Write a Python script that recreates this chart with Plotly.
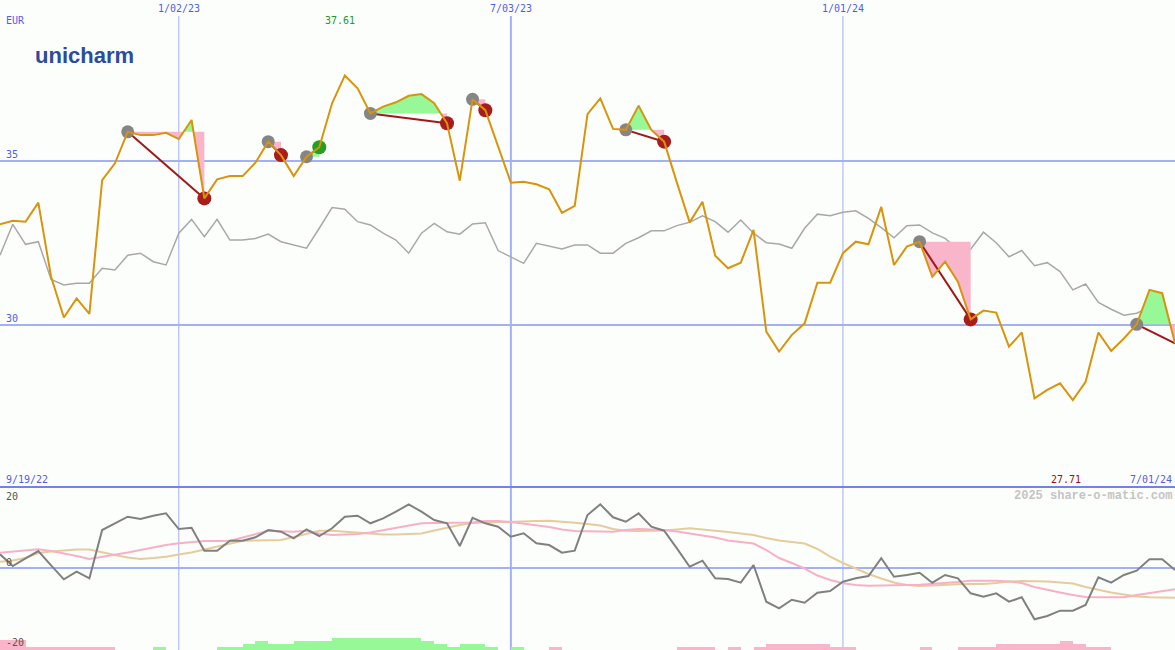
import plotly.graph_objects as go
import pandas as pd

# ---------------- data ----------------
start_date = "2022-09-26"

price = [33.07, 33.18, 33.15, 33.73, 31.47, 30.23, 30.81, 30.34, 34.42, 34.93,
         35.89, 35.79, 35.79, 35.86, 35.67, 36.25, 33.86, 34.44, 34.54, 34.54,
         34.95, 35.59, 35.18, 34.54, 35.13, 35.42, 36.76, 37.61, 37.22, 36.45,
         36.66, 36.79, 36.99, 37.04, 36.76, 36.15, 34.40, 36.88, 36.55, 35.43,
         34.34, 34.37, 34.29, 34.14, 33.42, 33.63, 36.43, 36.91, 35.98, 35.95,
         36.69, 35.95, 35.59, 34.34, 33.13, 33.76, 32.11, 31.73, 31.90, 32.90,
         29.80, 29.19, 29.70, 30.05, 31.29, 31.29, 32.19, 32.54, 32.46, 33.60,
         31.83, 32.39, 32.54, 31.47, 31.93, 31.32, 30.17, 30.44, 30.38, 29.34,
         29.77, 27.76, 28.02, 28.22, 27.71, 28.27, 29.77, 29.21, 29.59, 30.02,
         31.07, 30.97, 29.44]

index_line = [32.13, 33.07, 32.46, 32.54, 31.39, 31.22, 31.27, 31.27, 31.73, 31.68,
              32.13, 32.19, 31.93, 31.83, 32.80, 33.22, 32.69, 33.22, 32.59, 32.59,
              32.64, 32.77, 32.54, 32.44, 32.34, 32.95, 33.58, 33.53, 33.15, 33.05,
              32.80, 32.59, 32.19, 32.80, 33.10, 32.84, 32.77, 33.08, 33.12, 32.27,
              32.08, 31.88, 32.49, 32.41, 32.32, 32.44, 32.44, 32.19, 32.19, 32.49,
              32.66, 32.87, 32.87, 33.03, 33.13, 33.33, 33.15, 32.83, 33.20, 32.80,
              32.51, 32.47, 32.34, 32.95, 33.38, 33.33, 33.44, 33.48, 33.25, 32.97,
              32.66, 33.03, 33.05, 32.81, 32.64, 32.31, 32.31, 32.83, 32.51, 32.08,
              32.27, 31.81, 31.90, 31.63, 31.07, 31.25, 30.69, 30.48, 30.30, 30.36,
              30.54, 30.46, 29.70]

osc = [3.47, 0.51, 2.46, 4.30, 0.68, -2.86, -0.94, -2.61, 9.62, 11.32,
       12.99, 12.41, 13.24, 13.85, 9.87, 10.20, 4.38, 4.38, 6.91, 6.91,
       7.77, 9.62, 9.19, 7.52, 9.80, 8.10, 10.05, 12.99, 13.24, 11.32,
       12.58, 14.25, 16.13, 14.25, 12.15, 11.32, 5.57, 12.73, 11.32, 10.46,
       7.92, 8.78, 6.25, 5.82, 3.87, 4.38, 13.42, 16.13, 12.84, 11.72,
       13.85, 10.46, 9.44, 4.99, 0.33, 1.85, -2.61, -2.78, -3.72, 0.76,
       -8.53, -10.20, -8.03, -8.78, -6.25, -5.82, -3.47, -2.61, -2.03, 2.46,
       -2.20, -1.77, -1.19, -3.72, -1.77, -2.61, -6.41, -7.27, -6.41, -8.53,
       -7.42, -12.99, -12.15, -10.81, -10.81, -9.37, -2.35, -3.72, -1.77, -0.68,
       2.20, 2.20, -0.51]

ma_fast = [3.87, 4.18, 4.56, 4.73, 4.30, 3.72, 3.04, 2.28, 2.78, 3.29,
           3.92, 4.56, 5.19, 5.82, 6.25, 6.58, 6.84, 6.84, 6.91, 7.72,
           8.61, 9.44, 9.32, 9.19, 9.44, 8.73, 8.35, 8.48, 8.61, 8.99,
           9.62, 10.25, 10.89, 11.34, 11.39, 11.47, 11.39, 11.52, 11.90, 11.90,
           11.65, 11.27, 10.89, 10.38, 9.75, 9.37, 9.32, 9.24, 9.19, 9.62,
           9.87, 9.75, 9.62, 9.24, 8.73, 8.23, 7.72, 6.96, 6.58, 6.20,
           4.56, 2.53, 1.27, -0.13, -1.90, -3.04, -3.87, -4.30, -4.48, -4.48,
           -4.48, -4.30, -4.23, -4.05, -3.87, -3.54, -3.22, -3.22, -3.22, -3.42,
           -3.80, -4.81, -5.57, -6.20, -6.84, -7.34, -7.42, -7.42, -7.42, -6.84,
           -6.33, -5.82, -5.39]

ma_slow = [1.59, 1.90, 2.53, 3.80, 4.18, 4.43, 4.68, 4.68, 3.92, 3.29,
           2.66, 2.28, 2.53, 2.86, 3.42, 3.92, 4.68, 5.39, 6.20, 6.91,
           6.96, 7.01, 7.09, 7.85, 8.73, 9.44, 9.44, 9.24, 8.99, 8.73,
           8.48, 8.48, 8.61, 8.73, 9.49, 10.25, 10.89, 11.39, 11.52, 11.65,
           11.72, 11.77, 11.90, 11.97, 11.77, 11.47, 11.14, 10.76, 9.87, 9.44,
           9.37, 9.37, 9.49, 9.75, 10.05, 9.75, 9.49, 9.11, 8.73, 8.35,
           7.59, 6.96, 6.58, 6.20, 4.81, 2.86, 1.27, -0.13, -1.52, -2.66,
           -3.67, -4.30, -4.56, -4.43, -4.23, -4.13, -4.05, -4.05, -3.80, -3.42,
           -3.29, -3.34, -3.42, -3.67, -3.92, -4.81, -5.57, -6.20, -6.71, -7.22,
           -7.42, -7.47, -7.52]

hist = [-2.5, -2.5, -0.7, -0.7, -0.7, -0.7, -0.7, -0.7, -0.7, 0,
        0, 0, 0.7, 0, 0, 0, 0, 0.7, 0.7, 1.5,
        2.3, 1.5, 1.5, 2.3, 2.3, 2.3, 3.1, 3.1, 3.1, 3.1,
        3.1, 3.1, 3.1, 2.3, 1.5, 0.7, 1.5, 1.5, 0.7, 0,
        0.7, 0, 0, -0.7, 0, 0, 0, 0, 0, 0,
        0, 0, 0, -0.7, -0.7, -0.7, 0, -0.7, 0, -0.7,
        -1.5, -1.5, -1.5, -1.5, -1.5, -0.7, -0.7, 0, 0, 0,
        0, 0, -0.7, 0, 0, -0.7, -0.7, -0.7, -1.5, -1.5,
        -1.5, -1.5, -1.5, -2.3, -1.5, -0.7, -0.7, 0, 0, 0,
        0, 0, 0]

sig_start = [10, 21, 24, 29, 37, 49, 72, 89]
sig_end = [16, 22, 25, 35, 38, 52, 76, 92]
sig_closed = [True, True, True, True, True, True, True, False]

vlines = ["2023-01-02", "2023-07-03", "2024-01-01"]
vline_labels = ["1/02/23", "7/03/23", "1/01/24"]
hlines = [35, 30]
left_date_label = "9/19/22"
right_date_label = "7/01/24"
currency = "EUR"

# ---------------- styling ----------------
W, H = 1175, 650
BG = "#fcfefc"
BLUE_LINE = "#a3b0f3"
BLUE_TXT = "#5060e6"
GOLD = "#d8940c"
GREEN_FILL = "#96f896"
PINK_FILL = "#f9b6ca"
MONO = "DejaVu Sans Mono"
split_px = 487
y_main = [25.06, 39.91]
y_low = [-20.76, 20.51]

dates = pd.date_range(start_date, periods=len(price), freq="7D")

fig = go.Figure()

# lower panel histogram bars
bar_x = [d + pd.Timedelta(days=3.5) for d in dates]
fig.add_trace(go.Bar(
    x=bar_x, y=[abs(h) for h in hist], base=y_low[0],
    width=7 * 86400000,
    marker=dict(color=[GREEN_FILL if h > 0 else PINK_FILL for h in hist], line=dict(width=0)),
    xaxis="x", yaxis="y2", hoverinfo="skip"))

# lower panel lines
fig.add_trace(go.Scatter(x=dates, y=ma_slow, mode="lines", line=dict(color="#e6cc9c", width=2),
                         xaxis="x", yaxis="y2"))
fig.add_trace(go.Scatter(x=dates, y=ma_fast, mode="lines", line=dict(color="#f8b0c6", width=2),
                         xaxis="x", yaxis="y2"))
fig.add_trace(go.Scatter(x=dates, y=osc, mode="lines", line=dict(color="#808080", width=2),
                         xaxis="x", yaxis="y2"))

# main: comparison index line
fig.add_trace(go.Scatter(x=dates, y=index_line, mode="lines", line=dict(color="#a8a8a8", width=1.5),
                         xaxis="x", yaxis="y"))


def segment_points(s, e):
    lvl = price[s]
    xs, ys = [], []
    for i in range(s, e + 1):
        if i > s:
            p0, p1 = price[i - 1], price[i]
            if (p0 - lvl) * (p1 - lvl) < 0:
                t = (lvl - p0) / (p1 - p0)
                xs.append(dates[i - 1] + (dates[i] - dates[i - 1]) * t)
                ys.append(lvl)
        xs.append(dates[i])
        ys.append(price[i])
    return lvl, xs, ys


# signal fills
for s, e in zip(sig_start, sig_end):
    lvl, xs, ys = segment_points(s, e)
    up = [max(y, lvl) for y in ys]
    dn = [min(y, lvl) for y in ys]
    for vals, col in ((up, GREEN_FILL), (dn, PINK_FILL)):
        fig.add_trace(go.Scatter(x=list(xs) + list(xs[::-1]), y=vals + [lvl] * len(xs),
                                 fill="toself", fillcolor=col, mode="lines",
                                 line=dict(width=0, color=col), xaxis="x", yaxis="y",
                                 hoverinfo="skip"))

# signal lines
for s, e in zip(sig_start, sig_end):
    win = price[e] > price[s]
    fig.add_trace(go.Scatter(x=[dates[s], dates[e]], y=[price[s], price[e]], mode="lines",
                             line=dict(color="#22a022" if win else "#a01818", width=2),
                             xaxis="x", yaxis="y"))

# start markers
fig.add_trace(go.Scatter(x=[dates[s] for s in sig_start], y=[price[s] for s in sig_start],
                         mode="markers", marker=dict(color="#858585", size=13, line=dict(width=0)),
                         xaxis="x", yaxis="y"))
# end markers
ex, ey, ec = [], [], []
for s, e, c in zip(sig_start, sig_end, sig_closed):
    if c:
        ex.append(dates[e]); ey.append(price[e])
        ec.append("#22a022" if price[e] > price[s] else "#a81c1c")
fig.add_trace(go.Scatter(x=ex, y=ey, mode="markers",
                         marker=dict(color=ec, size=14, line=dict(width=0)),
                         xaxis="x", yaxis="y"))

# price line
fig.add_trace(go.Scatter(x=dates, y=price, mode="lines", line=dict(color=GOLD, width=2),
                         xaxis="x", yaxis="y"))

# ---------------- shapes ----------------
shapes = []
for h in hlines:
    shapes.append(dict(type="line", xref="paper", yref="y", x0=0, x1=1, y0=h, y1=h,
                       line=dict(color=BLUE_LINE, width=2), layer="below"))
shapes.append(dict(type="line", xref="paper", yref="y2", x0=0, x1=1, y0=0, y1=0,
                   line=dict(color=BLUE_LINE, width=2), layer="below"))
for k, d in enumerate(vlines):
    shapes.append(dict(type="line", xref="x", yref="paper", x0=d, x1=d, y0=0, y1=1 - 16 / H,
                       line=dict(color=BLUE_LINE, width=2 if k == 1 else 1), layer="below"))
shapes.append(dict(type="line", xref="paper", yref="paper", x0=0, x1=1,
                   y0=1 - split_px / H, y1=1 - split_px / H,
                   line=dict(color="#7282ea", width=2)))


def px(x):
    return x / W


def py(y):
    return 1 - y / H


ann = []


def txt(text, x, y, color, xanchor="left", size=10, family=MONO, xref="paper", bold=False):
    ann.append(dict(text=f"<b>{text}</b>" if bold else text, x=x, y=py(y), xref=xref, yref="paper",
                    xanchor=xanchor, yanchor="middle", showarrow=False,
                    font=dict(color=color, size=size, family=family)))


txt(currency, px(4), 20, BLUE_TXT)
for d, lab in zip(vlines, vline_labels):
    txt(lab, d, 9, BLUE_TXT, xanchor="center", xref="x")
for h in hlines:
    ann.append(dict(text=str(h), x=px(4), y=h, xref="paper", yref="y", xanchor="left",
                    yanchor="bottom", yshift=-1, showarrow=False,
                    font=dict(color=BLUE_TXT, size=10, family=MONO)))
imax = price.index(max(price))
imin = price.index(min(price))
ann.append(dict(text=f"{max(price):.2f}", x=dates[imax], y=py(20), xref="x", yref="paper",
                xanchor="center", yanchor="middle", xshift=-5, showarrow=False,
                font=dict(color="#2a962a", size=10, family=MONO)))
ann.append(dict(text=f"{min(price):.2f}", x=dates[imin], y=py(479), xref="x", yref="paper",
                xanchor="center", yanchor="middle", xshift=-7, showarrow=False,
                font=dict(color="#a01414", size=10, family=MONO)))
txt(left_date_label, px(4), 479, BLUE_TXT)
txt(right_date_label, px(1174), 479, BLUE_TXT, xanchor="right")
txt("2025 share-o-matic.com", px(1174), 496, "#c4c4c4", xanchor="right", size=12,
    family="Liberation Mono", bold=True)
txt("20", px(4), 496, "#555555")
txt("0", px(4), 562, "#555555")
txt("-20", px(4), 642, "#555555")
txt("unicharm", px(84), 56, "#2b4c9c", xanchor="center", size=22,
    family="Liberation Sans Narrow, Liberation Sans", bold=True)

fig.update_layout(
    width=W, height=H, margin=dict(l=0, r=0, t=0, b=0),
    paper_bgcolor=BG, plot_bgcolor=BG, showlegend=False, hovermode=False,
    bargap=0,
    xaxis=dict(type="date", range=[dates[0], dates[-1]], visible=False, fixedrange=True),
    yaxis=dict(domain=[1 - split_px / H, 1], range=y_main, visible=False),
    yaxis2=dict(domain=[0, 1 - split_px / H], range=y_low, visible=False),
    shapes=shapes, annotations=ann,
)

fig.write_html("out.html", config={"staticPlot": True},
               post_script="document.body.style.margin='0';document.body.style.padding='0';"
                           "document.body.style.overflow='hidden';")
